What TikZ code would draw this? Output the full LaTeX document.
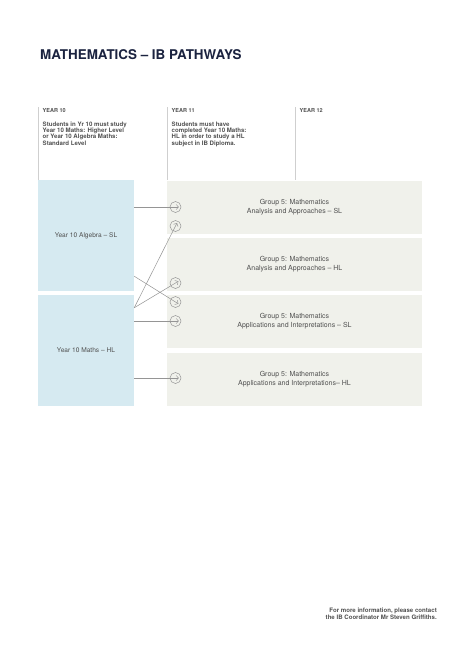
\documentclass[tikz,border=0pt]{standalone}
\usepackage{fontspec}
\setmainfont{TeX Gyre Heros}
\usepackage{xcolor}
\usetikzlibrary{calc,positioning,arrows.meta}
\definecolor{navy}{HTML}{1B2340}
\definecolor{textgray}{HTML}{505050}
\definecolor{rulegray}{HTML}{CFCFCF}
\definecolor{algblue}{HTML}{D6EAF1}
\definecolor{ibgreen}{HTML}{F0F1EB}
\definecolor{linkgray}{HTML}{959595}

\begin{document}
\begin{tikzpicture}[x=1pt,y=-1pt,
  yearlbl/.style={anchor=base west,inner sep=0pt,text=textgray,font=\fontsize{5.5}{6}\selectfont\bfseries},
  yearnote/.style={anchor=north west,inner sep=0pt,align=left,text=textgray,font=\fontsize{6.1}{6.4}\selectfont\bfseries},
  srcbox/.style={fill=algblue,minimum width=96pt,minimum height=111pt,inner sep=0pt,text=textgray,font=\fontsize{6.6}{8}\selectfont},
  ibbox/.style={fill=ibgreen,minimum width=255pt,minimum height=53pt,inner sep=0pt,align=center,text=textgray,font=\fontsize{7}{8.8}\selectfont},
  gocirc/.style={circle,draw=linkgray,line width=0.5pt,minimum size=11pt,inner sep=0pt},
  link/.style={draw=linkgray,line width=0.5pt,-{Straight Barb[length=2.4pt,width=5pt]}}]
\useasboundingbox (0,0) rectangle (474,670);
\fill[white] (0,0) rectangle (474,670);

% title
\node[anchor=base west,inner sep=0pt,text=navy,font=\fontsize{13.4}{16}\selectfont\bfseries] (title) at (40,59) {MATHEMATICS – IB PATHWAYS};

% year columns
\foreach \cx in {38,167,295}
  \draw[rulegray,line width=0.6pt] (\cx,107) -- (\cx,180);
\node[yearlbl] (y10) at (42.5,112.5) {YEAR 10};
\node[yearlbl] (y11) at (171.5,112.5) {YEAR 11};
\node[yearlbl] (y12) at (299.5,112.5) {YEAR 12};
\node[yearnote] (n10) at (42.5,121.3) {Students in Yr 10 must study\\Year 10 Maths: Higher Level\\or Year 10 Algebra Maths:\\Standard Level};
\node[yearnote] (n11) at (171.5,121.3) {Students must have\\completed Year 10 Maths:\\HL in order to study a HL\\subject in IB Diploma.};

% year 10 courses
\node[srcbox] (alg) at (86,235.5) {Year 10 Algebra – SL};
\node[srcbox] (hl) at (86,350.5) {Year 10 Maths – HL};

% IB subjects
\node[ibbox] (aasl) at (294.5,207.5) {Group 5: Mathematics\\Analysis and Approaches – SL};
\node[ibbox] (aahl) at (294.5,264.5) {Group 5: Mathematics\\Analysis and Approaches – HL};
\node[ibbox] (aisl) at (294.5,321.5) {Group 5: Mathematics\\Applications and Interpretations – SL};
\node[ibbox] (aihl) at (294.5,379) {Group 5: Mathematics\\Applications and Interpretations– HL};

% entry points
\node[gocirc] (c1) at (175.5,207) {};
\node[gocirc] (c2) at (175.5,226) {};
\node[gocirc] (c3) at (175.5,283) {};
\node[gocirc] (c4) at (175.5,302) {};
\node[gocirc] (c5) at (175.5,321) {};
\node[gocirc] (c6) at (175.5,378) {};

\coordinate (algdown) at ($(alg.south east)+(0,-15)$);
\coordinate (hlup) at ($(hl.north east)+(0,13)$);

% pathways
\draw[link] (alg.east |- c1) -- ($(c1.center)!-3.4pt!(alg.east |- c1)$);
\draw[link] (algdown) -- ($(c4.center)!-3.4pt!(algdown)$);
\draw[link] (hlup) -- ($(c2.center)!-3.4pt!(hlup)$);
\draw[link] (hlup) -- ($(c3.center)!-3.4pt!(hlup)$);
\draw[link] (hl.east |- c5) -- ($(c5.center)!-3.4pt!(hl.east |- c5)$);
\draw[link] (hl.east |- c6) -- ($(c6.center)!-3.4pt!(hl.east |- c6)$);

% footer
\node[anchor=base east,inner sep=0pt,align=right,text=textgray,font=\fontsize{6.1}{7}\selectfont\bfseries] (info) at (437,619) {For more information, please contact\\the IB Coordinator Mr Steven Griffiths.};
\end{tikzpicture}
\end{document}
